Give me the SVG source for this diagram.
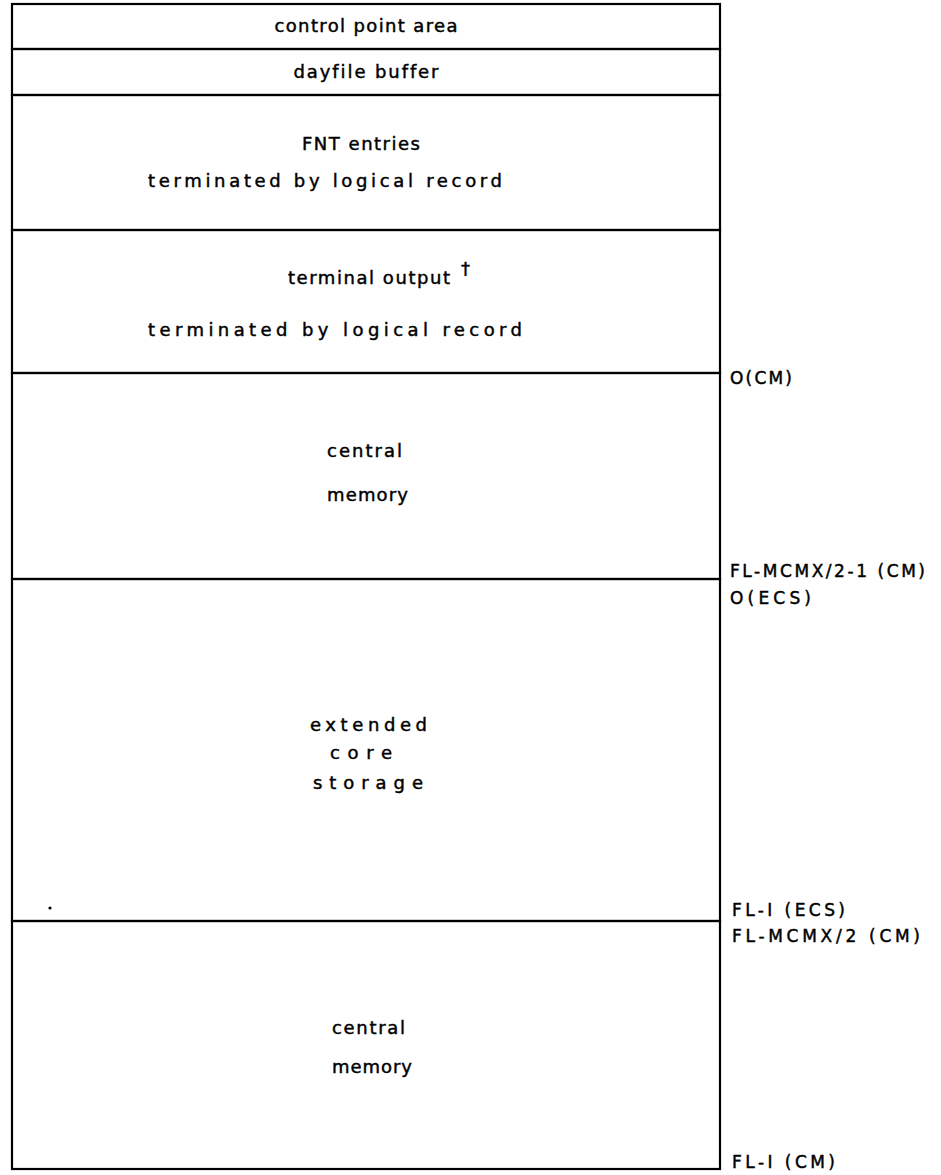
<svg xmlns="http://www.w3.org/2000/svg" width="941" height="1175" viewBox="0 0 941 1175">
<style>
.box{fill:none;stroke:#000;stroke-width:2.2}
.t{font-family:"DejaVu Sans","Liberation Sans",sans-serif;font-size:18px;fill:#000;stroke:#000;stroke-width:0.45;font-variant-ligatures:none}
.c{text-anchor:middle}
.lbl{font-family:"DejaVu Sans","Liberation Sans",sans-serif;font-size:17px;fill:#000;stroke:#000;stroke-width:0.45;font-variant-ligatures:none}
</style>
<rect width="941" height="1175" fill="#fff"/>
<g id="control-point-area">
<rect class="box" x="12" y="4" width="708" height="45"/>
<text class="t c" x="366" y="32" textLength="183" lengthAdjust="spacing">control point area</text>
</g>
<g id="dayfile-buffer">
<rect class="box" x="12" y="49" width="708" height="46"/>
<text class="t c" x="366" y="78" textLength="145" lengthAdjust="spacing">dayfile buffer</text>
</g>
<g id="fnt-entries">
<rect class="box" x="12" y="95" width="708" height="135"/>
<text class="t c" x="361" y="150" textLength="118" lengthAdjust="spacing">FNT entries</text>
<text class="t" x="148" y="187" textLength="354" lengthAdjust="spacing">terminated by logical record</text>
</g>
<g id="terminal-output">
<rect class="box" x="12" y="230" width="708" height="143"/>
<text class="t" x="288" y="284" textLength="162" lengthAdjust="spacing">terminal output</text>
<text class="t" x="461" y="275" font-size="18">†</text>
<text class="t" x="148" y="336" textLength="374" lengthAdjust="spacing">terminated by logical record</text>
</g>
<g id="central-memory-1">
<rect class="box" x="12" y="373" width="708" height="206"/>
<text class="t" x="327" y="457" textLength="75" lengthAdjust="spacing">central</text>
<text class="t" x="327" y="501" textLength="81" lengthAdjust="spacing">memory</text>
</g>
<g id="extended-core-storage">
<rect class="box" x="12" y="579" width="708" height="342"/>
<text class="t" x="310" y="731" textLength="117" lengthAdjust="spacing">extended</text>
<text class="t" x="330" y="759" textLength="62" lengthAdjust="spacing">core</text>
<text class="t" x="313" y="789" textLength="110" lengthAdjust="spacing">storage</text>
<circle cx="50" cy="908" r="1.6" fill="#000"/>
</g>
<g id="central-memory-2">
<rect class="box" x="12" y="921" width="708" height="248"/>
<text class="t" x="332" y="1034" textLength="73" lengthAdjust="spacing">central</text>
<text class="t" x="332" y="1073" textLength="80" lengthAdjust="spacing">memory</text>
</g>
<g id="connectors">
<text class="lbl" x="730" y="384" textLength="62" lengthAdjust="spacing">O(CM)</text>
<text class="lbl" x="730" y="577" textLength="195" lengthAdjust="spacing">FL-MCMX/2-1 (CM)</text>
<text class="lbl" x="730" y="604" textLength="81" lengthAdjust="spacing">O(ECS)</text>
<text class="lbl" x="732" y="916" textLength="113" lengthAdjust="spacing">FL-I (ECS)</text>
<text class="lbl" x="732" y="942" textLength="188" lengthAdjust="spacing">FL-MCMX/2 (CM)</text>
<text class="lbl" x="732" y="1168" textLength="103" lengthAdjust="spacing">FL-I (CM)</text>
</g>
</svg>
